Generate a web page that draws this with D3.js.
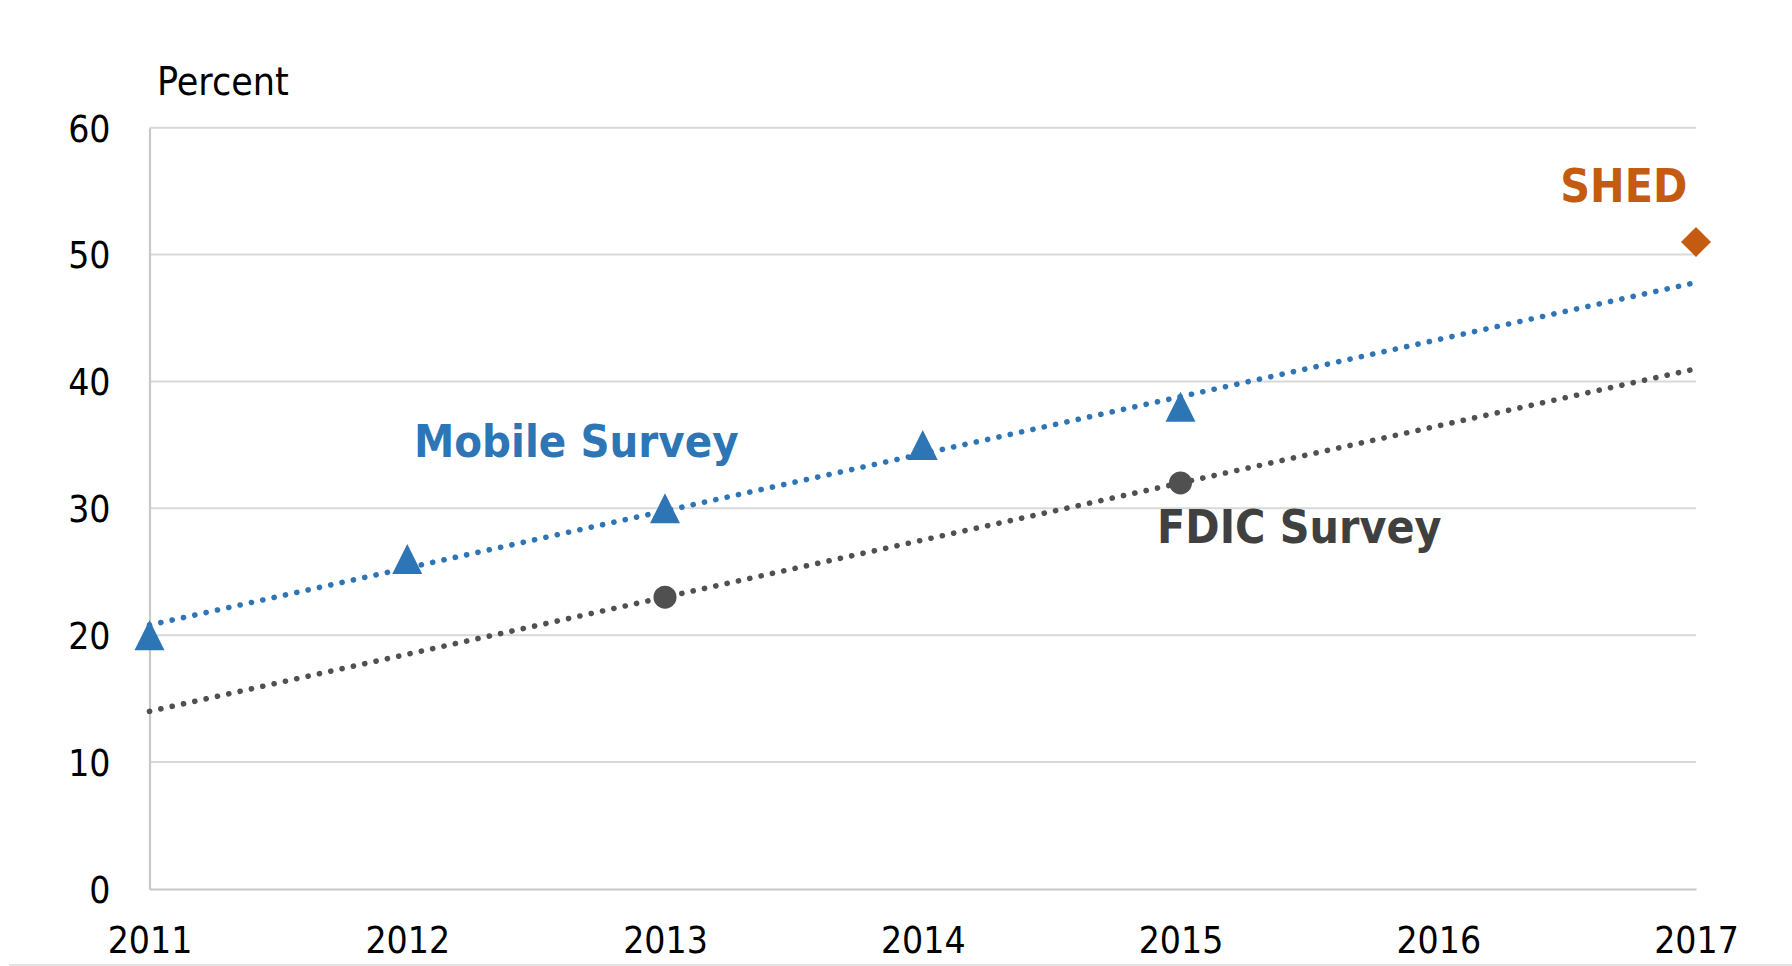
<!DOCTYPE html>
<html>
<head>
<meta charset="utf-8">
<script src="https://cdn.jsdelivr.net/npm/d3@7"></script>
<style>
  html, body { margin: 0; padding: 0; background: #fff; }
  svg { display: block; }
  text { font-family: "DejaVu Sans Condensed", "DejaVu Sans", sans-serif; font-stretch: condensed; }
</style>
</head>
<body>
<svg id="chart" width="1792" height="966"></svg>
<script>
// ---- data ----
const years = [2011, 2012, 2013, 2014, 2015, 2016, 2017];
const mobileYears = [2011, 2012, 2013, 2014, 2015];
const mobileValues = [20, 26, 30, 35, 38];
const fdicYears = [2013, 2015];
const fdicValues = [23, 32];
const shedYears = [2017];
const shedValues = [51];
const yTicks = [0, 10, 20, 30, 40, 50, 60];
const seriesLabels = ["Mobile Survey", "FDIC Survey", "SHED"];
const axisTitle = "Percent";

// ---- layout ----
const svg = d3.select("#chart");
const pLeft = 149.5, pRight = 1696, pTop = 127.7, pBottom = 889;
const x = d3.scaleLinear().domain([2011, 2017]).range([pLeft, pRight]);
const y = d3.scaleLinear().domain([0, 60]).range([pBottom, pTop]);

const blue = "#2E75B6", gray = "#505050", grayText = "#404040", orange = "#C55A11";
const fontFam = '"DejaVu Sans Condensed", "DejaVu Sans", sans-serif';

// gridlines
svg.append("g")
  .selectAll("line")
  .data(yTicks.filter(d => d > 0))
  .join("line")
  .attr("x1", pLeft).attr("x2", pRight)
  .attr("y1", d => y(d)).attr("y2", d => y(d))
  .attr("stroke", "#d9d9d9").attr("stroke-width", 2);

// y axis
const yAxis = svg.append("g")
  .attr("transform", `translate(${pLeft},0)`)
  .call(d3.axisLeft(y).tickValues(yTicks).tickSize(0).tickPadding(39).tickFormat(d3.format("d")));
yAxis.select(".domain").attr("stroke", "#c8c8c8").attr("stroke-width", 2.2);
yAxis.selectAll("text").attr("font-size", 37).attr("fill", "#000").attr("dy", "0.36em")
  .style("font-family", fontFam);

// x axis
const xAxis = svg.append("g")
  .attr("transform", `translate(0,${pBottom})`)
  .call(d3.axisBottom(x).tickValues(years).tickSize(0).tickPadding(35).tickFormat(d3.format("d")));
xAxis.select(".domain").attr("stroke", "#c8c8c8").attr("stroke-width", 2.2);
xAxis.selectAll("text").attr("font-size", 37).attr("fill", "#000").attr("dy", "0.71em")
  .style("font-family", fontFam);
xAxis.selectAll("text").attr("y", 952 - pBottom - 37 * 0.71 + 0.5);

// bottom frame line
svg.append("line")
  .attr("x1", 9).attr("x2", 1792).attr("y1", 965).attr("y2", 965)
  .attr("stroke", "#d9d9d9").attr("stroke-width", 1.5);

// axis title
svg.append("text")
  .attr("x", 157).attr("y", 94.5)
  .attr("font-size", 39).attr("fill", "#000")
  .text(axisTitle);

// ---- linear trendlines (least squares from the data) ----
function fit(xs, ys) {
  const mx = d3.mean(xs), my = d3.mean(ys);
  const b = d3.sum(xs, (v, i) => (v - mx) * (ys[i] - my)) / d3.sum(xs, v => (v - mx) ** 2);
  const a = my - b * mx;
  return t => a + b * t;
}
const mobileFit = fit(mobileYears, mobileValues);
const fdicFit = fit(fdicYears, fdicValues);
const trendX = [2011, 2017];
const line = d3.line().x(d => x(d[0])).y(d => y(d[1]));

function trend(f, color) {
  svg.append("path")
    .datum(trendX.map(t => [t, f(t)]))
    .attr("d", line)
    .attr("fill", "none")
    .attr("stroke", color)
    .attr("stroke-width", 5.6)
    .attr("stroke-linecap", "round")
    .attr("stroke-dasharray", "0.1 11.5");
}
trend(mobileFit, blue);
trend(fdicFit, gray);

// ---- markers ----
const triType = {
  draw(ctx, size) {
    const h = Math.sqrt(size);
    ctx.moveTo(0, -h / 2);
    ctx.lineTo(h / 2, h / 2);
    ctx.lineTo(-h / 2, h / 2);
    ctx.closePath();
  }
};
svg.append("g").selectAll("path")
  .data(mobileYears.map((t, i) => [t, mobileValues[i]]))
  .join("path")
  .attr("transform", d => `translate(${x(d[0])},${y(d[1])})`)
  .attr("d", d3.symbol().type(triType).size(30 * 30))
  .attr("fill", blue);

svg.append("g").selectAll("circle")
  .data(fdicYears.map((t, i) => [t, fdicValues[i]]))
  .join("circle")
  .attr("cx", d => x(d[0])).attr("cy", d => y(d[1]))
  .attr("r", 11.5)
  .attr("fill", gray);

const diamondType = {
  draw(ctx, size) {
    const r = Math.sqrt(size) / 2;
    ctx.moveTo(0, -r); ctx.lineTo(r, 0); ctx.lineTo(0, r); ctx.lineTo(-r, 0); ctx.closePath();
  }
};
svg.append("g").selectAll("path")
  .data(shedYears.map((t, i) => [t, shedValues[i]]))
  .join("path")
  .attr("transform", d => `translate(${x(d[0])},${y(d[1])})`)
  .attr("d", d3.symbol().type(diamondType).size(30 * 30))
  .attr("fill", orange);

// ---- series labels ----
svg.append("text")
  .attr("x", 414).attr("y", 456.7)
  .attr("font-size", 45).attr("font-weight", "bold").attr("fill", blue)
  .text(seriesLabels[0]);
svg.append("text")
  .attr("x", 1157).attr("y", 543.3)
  .attr("font-size", 46).attr("font-weight", "bold").attr("fill", grayText)
  .text(seriesLabels[1]);
svg.append("text")
  .attr("x", 1687.3).attr("y", 201.7).attr("text-anchor", "end")
  .attr("font-size", 46).attr("font-weight", "bold").attr("fill", orange)
  .text(seriesLabels[2]);
</script>
</body>
</html>
